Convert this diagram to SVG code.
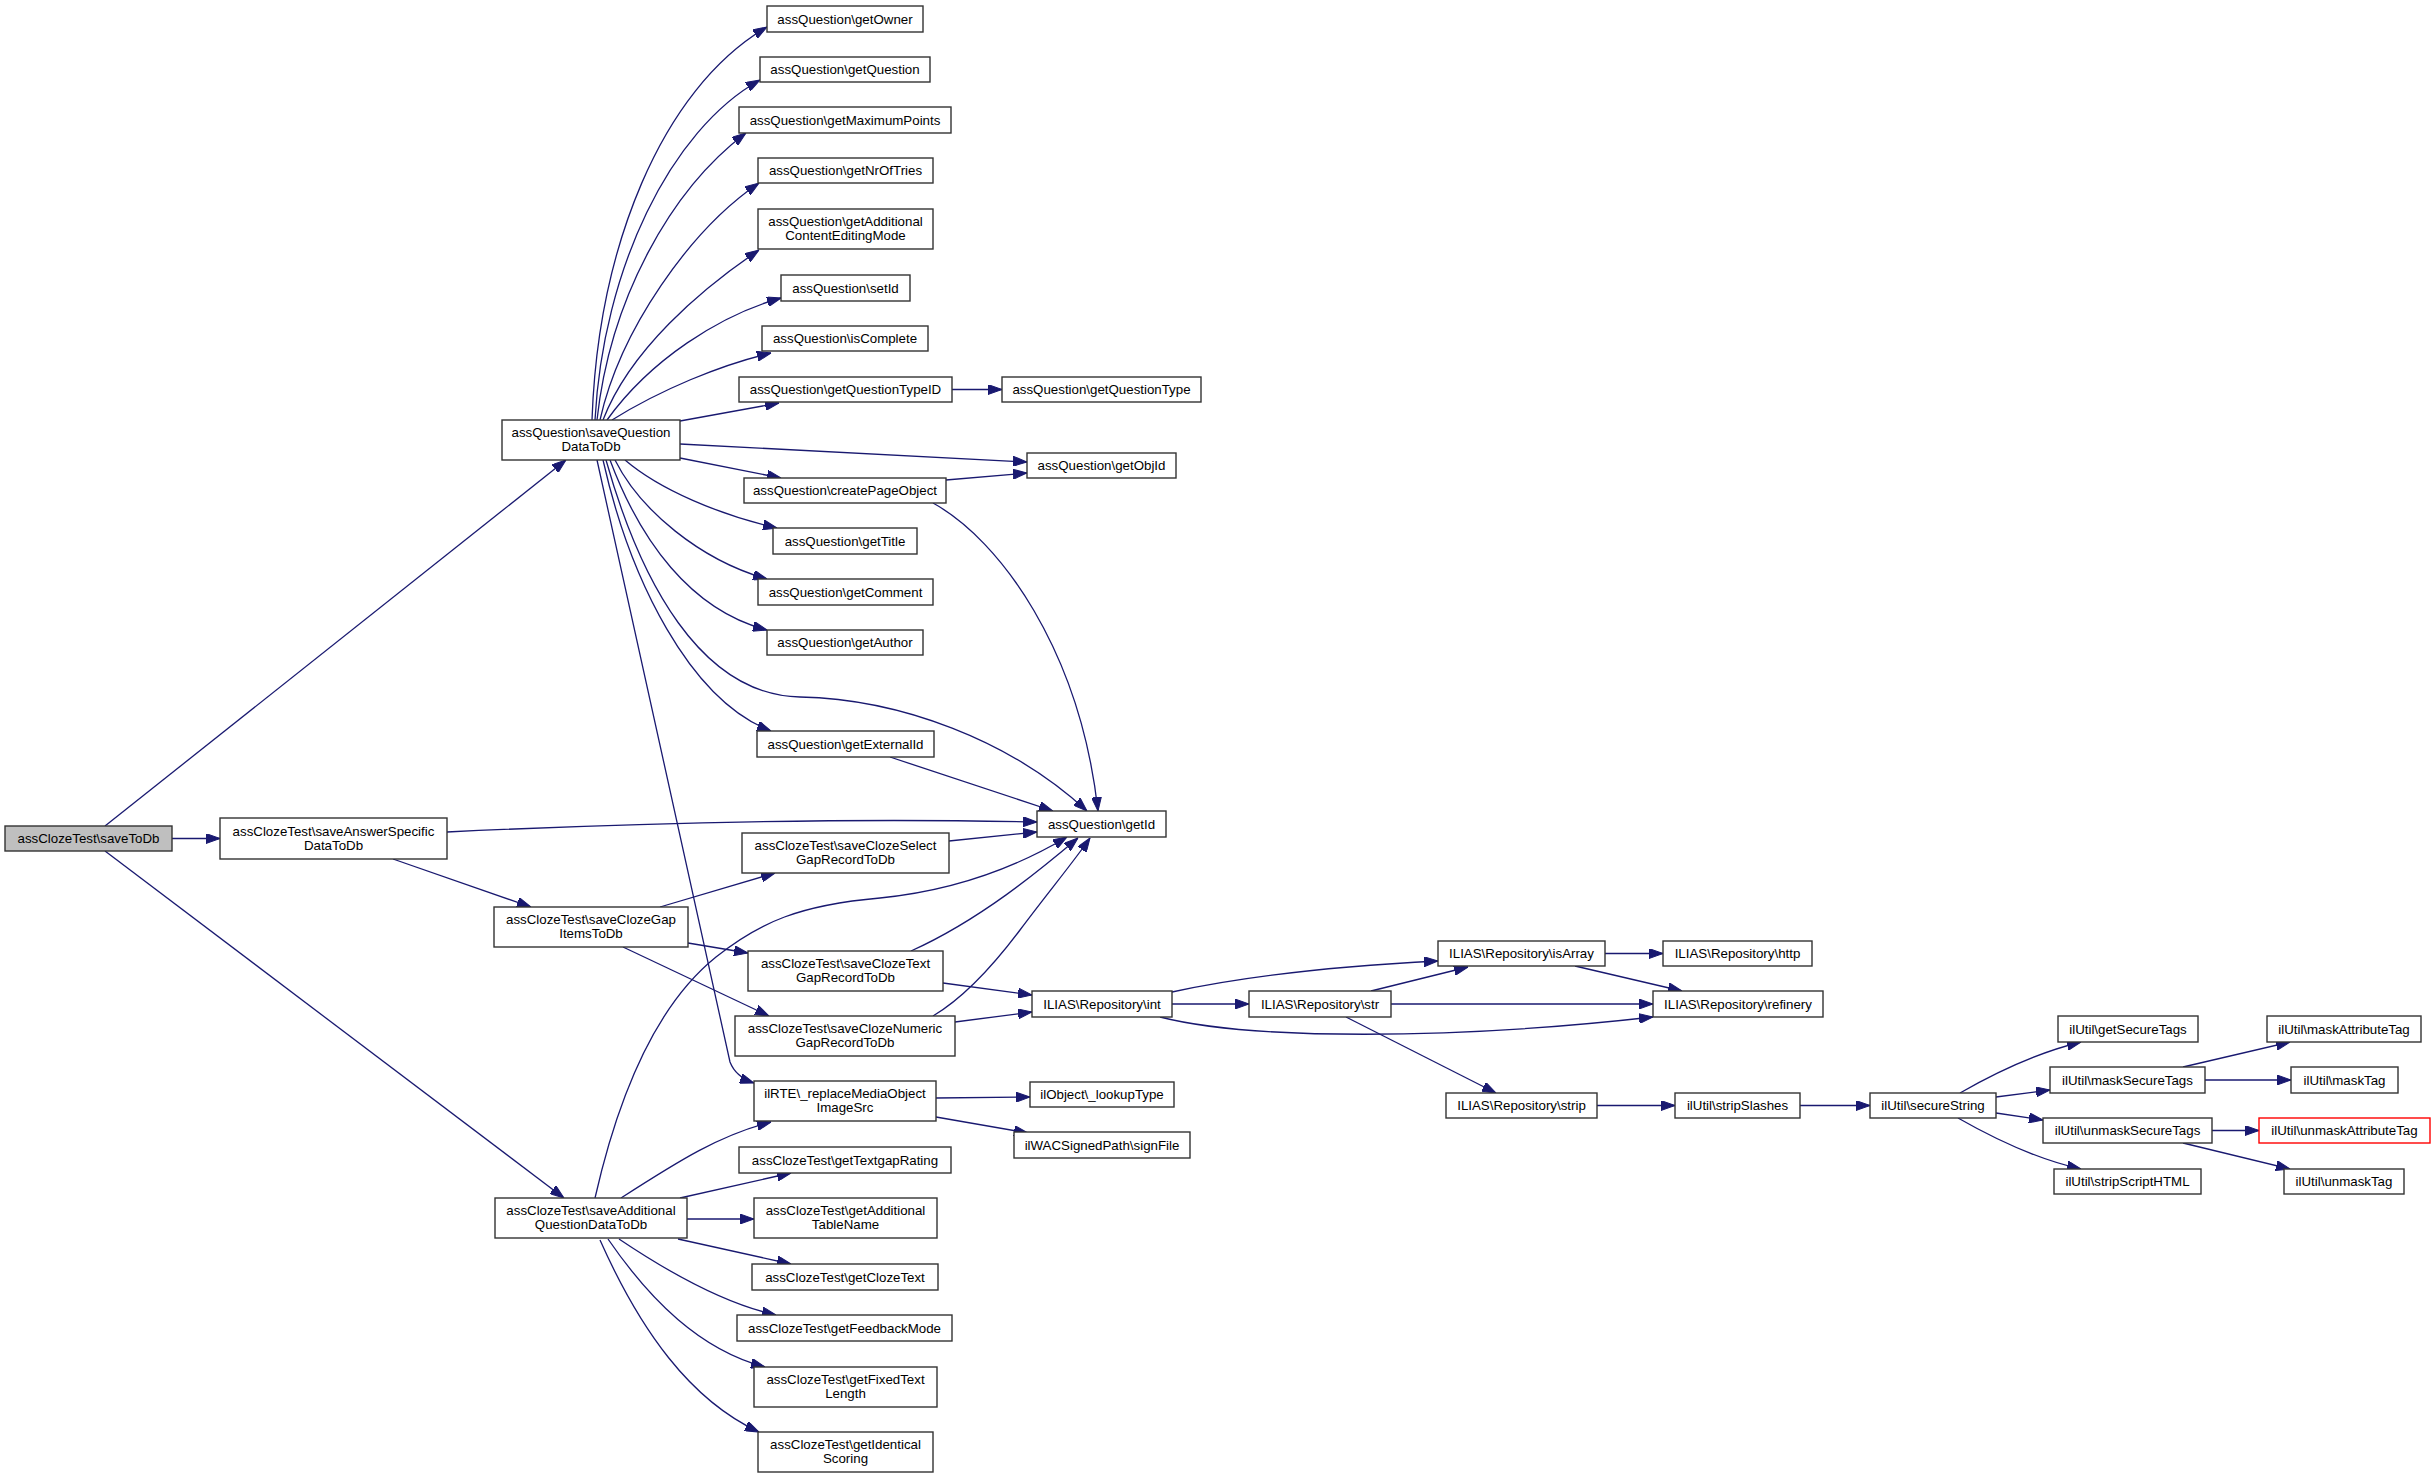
<svg xmlns="http://www.w3.org/2000/svg" width="2435" height="1478" viewBox="0 0 2435 1478">
<style>
.n rect{fill:#ffffff;stroke:#333333;stroke-width:1.4}
.root rect{fill:#bfbfbf}
.red rect{stroke:#ff0000}
.n text{font-family:"Liberation Sans",Arial,Helvetica,sans-serif;font-size:13.3px;text-anchor:middle;fill:#000000}
.e path{fill:none;stroke:#191970;stroke-width:1.3;marker-end:url(#arr)}
</style>
<defs>
<marker id="arr" markerUnits="userSpaceOnUse" markerWidth="14" markerHeight="10" refX="14" refY="5" orient="auto" viewBox="0 0 14 10">
<path d="M0,0 L14,5 L0,10 z" fill="#191970" stroke="#191970" stroke-width="1"/>
</marker>
</defs>
<rect x="0" y="0" width="2435" height="1478" fill="#ffffff"/>
<g id="connectors" class="e">
<path d="M105,826 L566,460"/>
<path d="M172,838.5 L220,838.5"/>
<path d="M105,851 L564,1198"/>
<path d="M447,832 C700,820 900,819 1037,822"/>
<path d="M393,859 L531,907"/>
<path d="M660,907 L775,873"/>
<path d="M688,943 L748,953"/>
<path d="M623,947 L769,1016"/>
<path d="M949,841 L1037,832"/>
<path d="M911,951 C980,920 1040,870 1078,838"/>
<path d="M943,983 L1032,995"/>
<path d="M933,1016 C960,1000 990,970 1020,930 C1050,890 1075,860 1090,838"/>
<path d="M955,1022 L1032,1012"/>
<path d="M595,1198 C615,1110 650,1010 716,957 C760,922 800,905 880,898 C960,890 1020,865 1067,837"/>
<path d="M621,1198 C680,1160 720,1135 771,1122"/>
<path d="M680,1198 L791,1173"/>
<path d="M687,1219 L754,1219"/>
<path d="M678,1239 L791,1264"/>
<path d="M619,1239 C680,1280 730,1305 776,1315"/>
<path d="M608,1239 C650,1300 700,1350 765,1367"/>
<path d="M600,1240 C640,1330 690,1400 759,1432"/>
<path d="M592,420 C598,250 660,90 767,27"/>
<path d="M595,420 C603,270 670,130 760,80"/>
<path d="M597,420 C610,300 670,190 746,133"/>
<path d="M600,420 C620,330 690,230 759,183"/>
<path d="M603,420 C630,350 700,290 759,250"/>
<path d="M607,420 C650,360 720,315 781,298"/>
<path d="M612,420 C660,390 720,365 771,353"/>
<path d="M680,421 L779,403"/>
<path d="M952,389.5 L1002,389.5"/>
<path d="M680,444 L1027,462"/>
<path d="M680,458 L781,478"/>
<path d="M946,480 L1027,473"/>
<path d="M933,503 C1000,540 1080,650 1098,811"/>
<path d="M625,460 C660,490 720,515 777,528"/>
<path d="M615,460 C640,510 700,560 767,579"/>
<path d="M610,460 C640,540 690,610 767,630"/>
<path d="M606,460 C640,580 700,695 800,697 C900,699 1010,740 1087,811"/>
<path d="M603,460 C630,580 690,700 771,731"/>
<path d="M597,460 L730,1062 C735,1075 745,1080 754,1083"/>
<path d="M890,757 L1053,811"/>
<path d="M936,1098 L1030,1097"/>
<path d="M936,1117 L1028,1133"/>
<path d="M1172,992 C1250,975 1340,966 1438,961"/>
<path d="M1172,1004 L1249,1004"/>
<path d="M1160,1017 C1250,1040 1450,1040 1653,1017"/>
<path d="M1371,991 L1468,967"/>
<path d="M1391,1004 L1653,1004"/>
<path d="M1346,1017 L1496,1093"/>
<path d="M1605,953.5 L1663,953.5"/>
<path d="M1575,966 L1682,991"/>
<path d="M1597,1105.5 L1675,1105.5"/>
<path d="M1800,1105.5 L1870,1105.5"/>
<path d="M1960,1093 C2000,1070 2040,1052 2081,1042"/>
<path d="M1996,1097 L2050,1090"/>
<path d="M1996,1113 L2043,1120"/>
<path d="M1958,1118 C2000,1142 2040,1160 2081,1169"/>
<path d="M2183,1067 L2290,1042"/>
<path d="M2205,1080 L2291,1080"/>
<path d="M2212,1130.5 L2259,1130.5"/>
<path d="M2183,1143 L2290,1169"/>
</g>
<g id="n_saveToDb" class="n root"><rect x="5" y="826" width="167" height="25"/><text x="88.5" y="843.2">assClozeTest\saveToDb</text></g>
<g id="n_saveQuestionDataToDb" class="n"><rect x="502" y="420" width="178" height="40"/><text x="591" y="437">assQuestion\saveQuestion</text><text x="591" y="451">DataToDb</text></g>
<g id="n_saveAnswerSpecificDataToDb" class="n"><rect x="220" y="818" width="227" height="41"/><text x="333.5" y="835.5">assClozeTest\saveAnswerSpecific</text><text x="333.5" y="849.5">DataToDb</text></g>
<g id="n_saveAdditionalQuestionDataToDb" class="n"><rect x="495" y="1198" width="192" height="40"/><text x="591" y="1215">assClozeTest\saveAdditional</text><text x="591" y="1229">QuestionDataToDb</text></g>
<g id="n_saveClozeGapItemsToDb" class="n"><rect x="494" y="907" width="194" height="40"/><text x="591" y="924">assClozeTest\saveClozeGap</text><text x="591" y="938">ItemsToDb</text></g>
<g id="n_getOwner" class="n"><rect x="767" y="6" width="156" height="26"/><text x="845" y="23.7">assQuestion\getOwner</text></g>
<g id="n_getQuestion" class="n"><rect x="760" y="57" width="170" height="25"/><text x="845" y="74.2">assQuestion\getQuestion</text></g>
<g id="n_getMaximumPoints" class="n"><rect x="739" y="107" width="212" height="26"/><text x="845" y="124.7">assQuestion\getMaximumPoints</text></g>
<g id="n_getNrOfTries" class="n"><rect x="758" y="158" width="175" height="25"/><text x="845.5" y="175.2">assQuestion\getNrOfTries</text></g>
<g id="n_getAdditionalContentEditingMode" class="n"><rect x="758" y="209" width="175" height="40"/><text x="845.5" y="226">assQuestion\getAdditional</text><text x="845.5" y="240">ContentEditingMode</text></g>
<g id="n_setId" class="n"><rect x="781" y="275" width="129" height="26"/><text x="845.5" y="292.7">assQuestion\setId</text></g>
<g id="n_isComplete" class="n"><rect x="762" y="326" width="166" height="25"/><text x="845" y="343.2">assQuestion\isComplete</text></g>
<g id="n_getQuestionTypeID" class="n"><rect x="739" y="377" width="213" height="25"/><text x="845.5" y="394.2">assQuestion\getQuestionTypeID</text></g>
<g id="n_getQuestionType" class="n"><rect x="1002" y="377" width="199" height="25"/><text x="1101.5" y="394.2">assQuestion\getQuestionType</text></g>
<g id="n_getObjId" class="n"><rect x="1027" y="453" width="149" height="25"/><text x="1101.5" y="470.2">assQuestion\getObjId</text></g>
<g id="n_createPageObject" class="n"><rect x="744" y="478" width="202" height="25"/><text x="845" y="495.2">assQuestion\createPageObject</text></g>
<g id="n_getTitle" class="n"><rect x="773" y="528" width="144" height="26"/><text x="845" y="545.7">assQuestion\getTitle</text></g>
<g id="n_getComment" class="n"><rect x="758" y="579" width="175" height="26"/><text x="845.5" y="596.7">assQuestion\getComment</text></g>
<g id="n_getAuthor" class="n"><rect x="767" y="630" width="156" height="25"/><text x="845" y="647.2">assQuestion\getAuthor</text></g>
<g id="n_getExternalId" class="n"><rect x="757" y="731" width="177" height="26"/><text x="845.5" y="748.7">assQuestion\getExternalId</text></g>
<g id="n_getId" class="n"><rect x="1037" y="811" width="129" height="26"/><text x="1101.5" y="828.7">assQuestion\getId</text></g>
<g id="n_saveClozeSelectGapRecordToDb" class="n"><rect x="742" y="833" width="207" height="40"/><text x="845.5" y="850">assClozeTest\saveClozeSelect</text><text x="845.5" y="864">GapRecordToDb</text></g>
<g id="n_saveClozeTextGapRecordToDb" class="n"><rect x="748" y="951" width="195" height="40"/><text x="845.5" y="968">assClozeTest\saveClozeText</text><text x="845.5" y="982">GapRecordToDb</text></g>
<g id="n_saveClozeNumericGapRecordToDb" class="n"><rect x="735" y="1016" width="220" height="40"/><text x="845" y="1033">assClozeTest\saveClozeNumeric</text><text x="845" y="1047">GapRecordToDb</text></g>
<g id="n_int" class="n"><rect x="1032" y="991" width="140" height="26"/><text x="1102" y="1008.7">ILIAS\Repository\int</text></g>
<g id="n_replaceMediaObjectImageSrc" class="n"><rect x="754" y="1081" width="182" height="40"/><text x="845" y="1098">ilRTE\_replaceMediaObject</text><text x="845" y="1112">ImageSrc</text></g>
<g id="n_lookupType" class="n"><rect x="1030" y="1082" width="144" height="25"/><text x="1102" y="1099.2">ilObject\_lookupType</text></g>
<g id="n_signFile" class="n"><rect x="1014" y="1132" width="176" height="26"/><text x="1102" y="1149.7">ilWACSignedPath\signFile</text></g>
<g id="n_getTextgapRating" class="n"><rect x="739" y="1147" width="212" height="26"/><text x="845" y="1164.7">assClozeTest\getTextgapRating</text></g>
<g id="n_getAdditionalTableName" class="n"><rect x="754" y="1198" width="183" height="40"/><text x="845.5" y="1215">assClozeTest\getAdditional</text><text x="845.5" y="1229">TableName</text></g>
<g id="n_getClozeText" class="n"><rect x="752" y="1264" width="186" height="26"/><text x="845" y="1281.7">assClozeTest\getClozeText</text></g>
<g id="n_getFeedbackMode" class="n"><rect x="737" y="1315" width="215" height="26"/><text x="844.5" y="1332.7">assClozeTest\getFeedbackMode</text></g>
<g id="n_getFixedTextLength" class="n"><rect x="754" y="1367" width="183" height="40"/><text x="845.5" y="1384">assClozeTest\getFixedText</text><text x="845.5" y="1398">Length</text></g>
<g id="n_getIdenticalScoring" class="n"><rect x="758" y="1432" width="175" height="40"/><text x="845.5" y="1449">assClozeTest\getIdentical</text><text x="845.5" y="1463">Scoring</text></g>
<g id="n_isArray" class="n"><rect x="1438" y="941" width="167" height="25"/><text x="1521.5" y="958.2">ILIAS\Repository\isArray</text></g>
<g id="n_http" class="n"><rect x="1663" y="941" width="149" height="25"/><text x="1737.5" y="958.2">ILIAS\Repository\http</text></g>
<g id="n_str" class="n"><rect x="1249" y="991" width="142" height="26"/><text x="1320" y="1008.7">ILIAS\Repository\str</text></g>
<g id="n_refinery" class="n"><rect x="1653" y="991" width="170" height="26"/><text x="1738" y="1008.7">ILIAS\Repository\refinery</text></g>
<g id="n_strip" class="n"><rect x="1446" y="1093" width="151" height="25"/><text x="1521.5" y="1110.2">ILIAS\Repository\strip</text></g>
<g id="n_stripSlashes" class="n"><rect x="1675" y="1093" width="125" height="25"/><text x="1737.5" y="1110.2">ilUtil\stripSlashes</text></g>
<g id="n_secureString" class="n"><rect x="1870" y="1093" width="126" height="25"/><text x="1933" y="1110.2">ilUtil\secureString</text></g>
<g id="n_getSecureTags" class="n"><rect x="2058" y="1016" width="140" height="26"/><text x="2128" y="1033.7">ilUtil\getSecureTags</text></g>
<g id="n_maskSecureTags" class="n"><rect x="2050" y="1067" width="155" height="26"/><text x="2127.5" y="1084.7">ilUtil\maskSecureTags</text></g>
<g id="n_unmaskSecureTags" class="n"><rect x="2043" y="1118" width="169" height="25"/><text x="2127.5" y="1135.2">ilUtil\unmaskSecureTags</text></g>
<g id="n_stripScriptHTML" class="n"><rect x="2054" y="1169" width="147" height="25"/><text x="2127.5" y="1186.2">ilUtil\stripScriptHTML</text></g>
<g id="n_maskAttributeTag" class="n"><rect x="2267" y="1016" width="154" height="26"/><text x="2344" y="1033.7">ilUtil\maskAttributeTag</text></g>
<g id="n_maskTag" class="n"><rect x="2291" y="1067" width="107" height="26"/><text x="2344.5" y="1084.7">ilUtil\maskTag</text></g>
<g id="n_unmaskAttributeTag" class="n red"><rect x="2259" y="1118" width="171" height="25"/><text x="2344.5" y="1135.2">ilUtil\unmaskAttributeTag</text></g>
<g id="n_unmaskTag" class="n"><rect x="2284" y="1169" width="120" height="25"/><text x="2344" y="1186.2">ilUtil\unmaskTag</text></g>
</svg>
